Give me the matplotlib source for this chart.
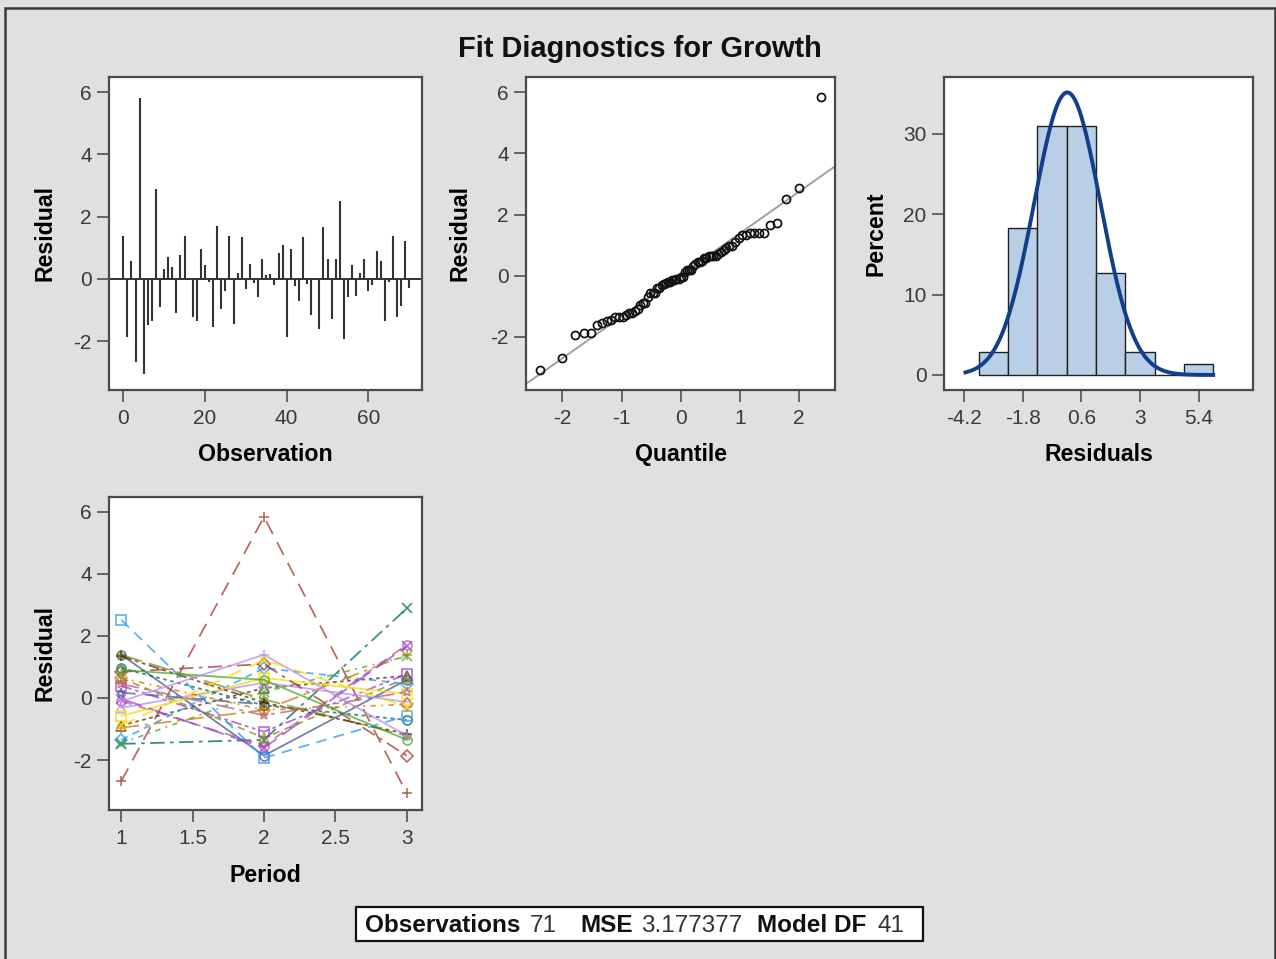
import numpy as np
import matplotlib.pyplot as plt
from matplotlib.patches import Rectangle
from statistics import NormalDist

plt.rcParams['font.family'] = ['Liberation Sans', 'DejaVu Sans']
plt.rcParams['axes.unicode_minus'] = False

# residuals in observation order (subjects one after another, periods 1..3)
residuals = np.array([
    1.39, -1.86, 0.58, -2.68, 5.83, -3.07, -1.48, -1.35, 2.88, -0.89,
    0.32, 0.71, 0.39, -1.09, 0.77, 1.39, -0.05, -1.22, -1.35, 0.96,
    0.45, -0.10, -1.54, 1.71, -0.96, -0.39, 1.39, -1.46, 0.19, 1.34,
    -0.32, 0.49, -0.13, -0.58, 0.64, 0.13, 0.17, -0.21, 0.84, 1.09,
    -1.86, 0.96, -0.24, -0.71, 1.34, -0.15, -1.16, -0.03, -1.61, 1.67,
    0.64, -1.29, 0.64, 2.51, -1.93, -0.58, 0.45, -0.56, 0.19, 0.64,
    -0.39, -0.21, 0.90, 0.58, -1.35, -0.11, 1.39, -1.22, -0.88, 1.22,
    -0.28,
])
subject_sizes = [3] * 12 + [2] + [3] * 11

n_obs = 71
mse = 3.177377
model_df = 41

hist_start = -3.6
hist_width = 1.2
hist_nbins = 8

obs_ticks = [0, 20, 40, 60]
resid_ticks = [-2, 0, 2, 4, 6]
quant_ticks = [-2, -1, 0, 1, 2]
pct_ticks = [0, 10, 20, 30]
resx_ticks = [-4.2, -1.8, 0.6, 3, 5.4]
resx_labels = ['-4.2', '-1.8', '0.6', '3', '5.4']
period_ticks = [1, 1.5, 2, 2.5, 3]
period_labels = ['1', '1.5', '2', '2.5', '3']

group_colors = ['#445694', '#A23A2E', '#01665E', '#543005', '#9D3CDB', '#7F8E1F',
                '#2597FA', '#B26084', '#D17800', '#47A82A', '#B38EF3', '#F9DA04']
group_markers = ['o', '+', 'x', '^', 's', '*', 'D']
group_lines = ['-', (0, (8, 5)), (0, (8, 3, 2, 3)), (0, (2, 2)), (0, (6, 2, 2, 2, 2, 2)),
               (0, (12, 4)), (0, (4, 3)), (0, (6, 4)), (0, (10, 3, 2, 3)),
               (0, (3, 3, 1, 3)), '-']

W, H = 1276, 959
bg = '#e0e0e0'
fig = plt.figure(figsize=(W / 100, H / 100), dpi=100, facecolor=bg)


def make_ax(x0, y0, x1, y1):
    ax = fig.add_axes([x0 / W, 1 - y1 / H, (x1 - x0) / W, (y1 - y0) / H])
    for s in ax.spines.values():
        s.set_color('#4a4a4a')
        s.set_linewidth(1.6)
    ax.tick_params(direction='out', length=8.5, width=1.1, color='#444444',
                   labelcolor='#3a3a3a', labelsize=15)
    ax.tick_params(axis='x', pad=5.5)
    ax.tick_params(axis='y', pad=4)
    return ax


def labels(ax, xl, yl, xpos, ypos):
    ax.set_xlabel(xl, fontsize=16.7, fontweight='bold', va='top')
    ax.set_ylabel(yl, fontsize=16.7, fontweight='bold', va='center')
    ax.xaxis.set_label_coords(0.5, xpos)
    ax.yaxis.set_label_coords(ypos, 0.5)


# residual by observation
ax1 = make_ax(109.3, 76.7, 421.7, 390)
obs = np.arange(len(residuals))
ax1.axhline(0, color='#111111', lw=1.2, zorder=1)
ax1.vlines(obs, 0, residuals, color='#333333', lw=1.5, zorder=2)
ax1.set_xlim(-3.43, 73.06)
ax1.set_ylim(-3.57, 6.5)
ax1.set_xticks(obs_ticks)
ax1.set_yticks(resid_ticks)
labels(ax1, 'Observation', 'Residual', -0.170, -0.206)

# normal quantile plot
ax2 = make_ax(526, 76.7, 835, 390)
nd = NormalDist()
ranks = np.arange(1, n_obs + 1)
quantiles = np.array([nd.inv_cdf((r - 0.375) / (n_obs + 0.25)) for r in ranks])
mu = residuals.mean()
sd = residuals.std(ddof=1)
xl = np.array([-2.7, 2.7])
ax2.plot(xl, mu + sd * xl, color='#a0a0a0', lw=1.4, zorder=1)
ax2.plot(quantiles, np.sort(residuals), 'o', mfc='none', mec='#111111',
         ms=5.8, mew=1.25, zorder=2)
ax2.set_xlim(-2.615, 2.61)
ax2.set_ylim(-3.74, 6.51)
ax2.set_xticks(quant_ticks)
ax2.set_yticks(resid_ticks)
labels(ax2, 'Quantile', 'Residual', -0.170, -0.215)

# histogram with normal density
ax3 = make_ax(944, 76.7, 1253, 390)
edges = hist_start + hist_width * np.arange(hist_nbins + 1)
ax3.hist(residuals, bins=edges, weights=np.full(len(residuals), 100 / n_obs),
         color='#b9cfe7', edgecolor='#202020', lw=1.0, zorder=1)
xc = np.linspace(-4.15, 6.0, 300)
dens = NormalDist(mu, sd)
ax3.plot(xc, [100 * hist_width * dens.pdf(v) for v in xc], color='#123f8c',
         lw=2.8, zorder=3)
ax3.set_xlim(-5.03, 7.63)
ax3.set_ylim(-1.87, 37.1)
ax3.set_xticks(resx_ticks)
ax3.set_xticklabels(resx_labels)
ax3.set_yticks(pct_ticks)
labels(ax3, 'Residuals', 'Percent', -0.170, -0.221)

# residual by period, one profile per subject
ax4 = make_ax(109.3, 496.7, 421.7, 810)
start = 0
for g, size in enumerate(subject_sizes):
    vals = residuals[start:start + size]
    per = np.arange(1, size + 1)
    ax4.plot(per, vals, color=group_colors[g % 12], ls=group_lines[g % 11],
             marker=group_markers[g % 7], mfc='none', ms=6.5, mew=1.2,
             lw=1.3, alpha=0.75)
    start += size
ax4.set_xlim(0.916, 3.105)
ax4.set_ylim(-3.61, 6.48)
ax4.set_xticks(period_ticks)
ax4.set_xticklabels(period_labels)
ax4.set_yticks(resid_ticks)
labels(ax4, 'Period', 'Residual', -0.171, -0.206)

# title
fig.text(640 / W, 1 - 56.7 / H, 'Fit Diagnostics for Growth', ha='center',
         va='baseline', fontsize=20.9, fontweight='bold', color='#111111')

# outer frame
fig.add_artist(Rectangle((5 / W, -0.1), 1270 / W, (H - 7.5) / H + 0.1,
                         transform=fig.transFigure, fill=False,
                         ec='#3a3a3a', lw=1.8))

# statistics box
fig.add_artist(Rectangle((355.5 / W, 1 - 941 / H), (923 - 355.5) / W, 34 / H,
                         transform=fig.transFigure, fc='white', ec='#111111',
                         lw=1.6))
pieces = [
    (365, 'Observations', 'bold'), (530, str(n_obs), 'normal'),
    (580, 'MSE', 'bold'), (641, f'{mse:.6f}', 'normal'),
    (757, 'Model DF', 'bold'), (878, str(model_df), 'normal'),
]
for px, txt, wt in pieces:
    fig.text(px / W, 1 - 932.5 / H, txt, ha='left', va='baseline',
             fontsize=17.5, fontweight=wt,
             color='#111111' if wt == 'bold' else '#333333')

fig.savefig('out.png', dpi=100, facecolor=bg)
